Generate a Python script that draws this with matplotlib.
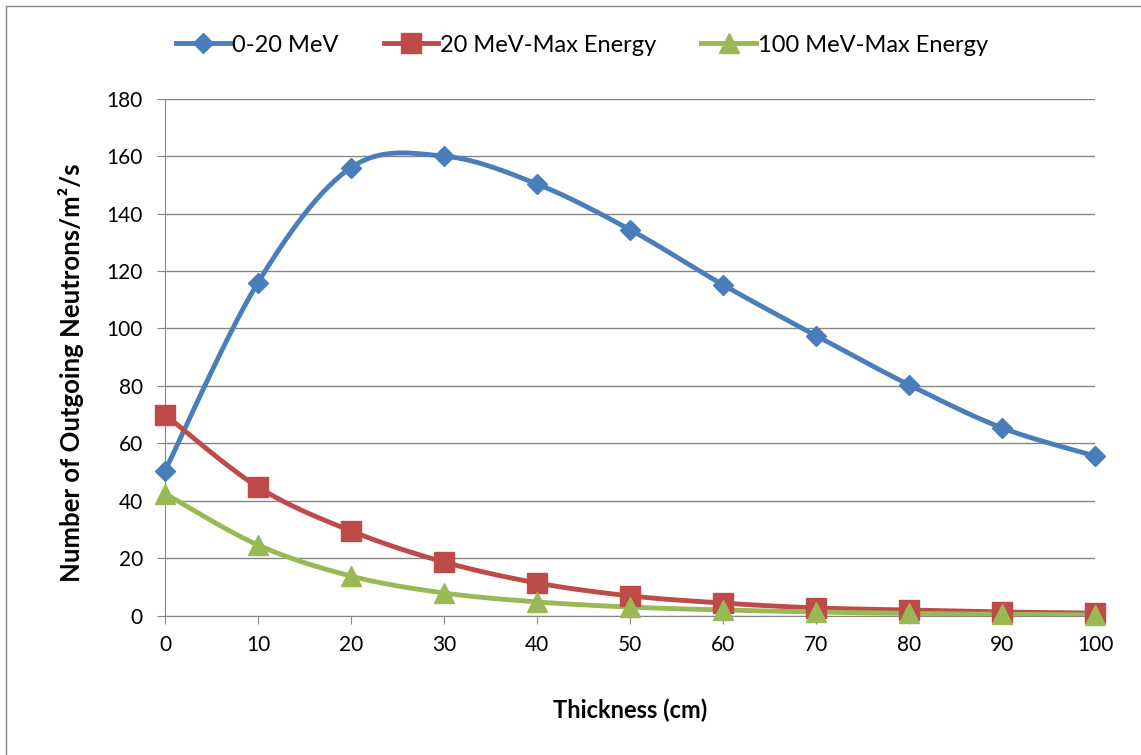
import numpy as np
import matplotlib.pyplot as plt
from matplotlib.patches import Rectangle

plt.rcParams['font.family'] = ['Lato', 'DejaVu Sans']

thickness = [0, 10, 20, 30, 40, 50, 60, 70, 80, 90, 100]
low_energy = [50.4, 116, 156, 160, 150.3, 134.4, 115.2, 97.5, 80.4, 65.4, 55.6]
mid_energy = [70, 44.8, 29.5, 18.7, 11.4, 6.9, 4.4, 2.7, 2.0, 1.3, 0.9]
high_energy = [42.5, 24.6, 13.8, 7.9, 4.8, 3.0, 2.0, 1.3, 0.8, 0.5, 0.3]

series_names = ['0-20 MeV', '20 MeV-Max Energy', '100 MeV-Max Energy']
colors = ['#4A7EBB', '#BE4B48', '#98B954']
markers = ['D', 's', '^']
msizes = [10, 14, 14]


def smooth(xs, ys, n=30):
    """catmull-rom style bezier smoothing through every point"""
    x = np.asarray(xs, float)
    y = np.asarray(ys, float)
    px = np.concatenate([[x[0]], x, [x[-1]]])
    py = np.concatenate([[y[0]], y, [y[-1]]])
    outx, outy = [], []
    t = np.linspace(0, 1, n)
    for i in range(len(x) - 1):
        p0 = np.array([px[i + 1], py[i + 1]])
        p3 = np.array([px[i + 2], py[i + 2]])
        c1 = p0 + (np.array([px[i + 2], py[i + 2]]) - np.array([px[i], py[i]])) / 6
        c2 = p3 - (np.array([px[i + 3], py[i + 3]]) - np.array([px[i + 1], py[i + 1]])) / 6
        for k in (0, 1):
            b = ((1 - t) ** 3 * p0[k] + 3 * (1 - t) ** 2 * t * c1[k]
                 + 3 * (1 - t) * t ** 2 * c2[k] + t ** 3 * p3[k])
            (outx if k == 0 else outy).extend(b)
    return outx, outy


fig = plt.figure(figsize=(11.41, 7.55), dpi=100)
fig.patches.append(Rectangle((6 / 1141, -0.01), 1.02, 1 - 6 / 755 + 0.01,
                             transform=fig.transFigure, fill=False,
                             edgecolor='#868686', linewidth=1))

ax = fig.add_axes([165 / 1141, (755 - 615.7) / 755, 930 / 1141, 517 / 755])

for ys, name, c, m, ms in zip([low_energy, mid_energy, high_energy],
                              series_names, colors, markers, msizes):
    sx, sy = smooth(thickness, ys)
    ax.plot(sx, sy, color=c, lw=3.5, solid_capstyle='round', zorder=3)
    ax.plot(thickness, ys, linestyle='none', marker=m, ms=ms, color=c,
            markeredgecolor=c, zorder=4, clip_on=False)
    ax.plot([], [], color=c, lw=3.5, marker=m, ms=ms, label=name)

ax.set_xlim(0, 100)
ax.set_ylim(0, 180)
ax.set_xticks(thickness)
ax.set_yticks(np.arange(0, 181, 20))
ax.grid(axis='y', color='#868686', lw=1)
ax.set_axisbelow(True)
for s in ['top', 'right']:
    ax.spines[s].set_visible(False)
for s in ['left', 'bottom']:
    ax.spines[s].set_color('#868686')
ax.tick_params(axis='both', length=6, color='#868686', labelsize=15, pad=8)
ax.tick_params(axis='y', pad=10)

ax.set_xlabel('Thickness (cm)', fontsize=17, fontweight='bold', labelpad=31)
ax.set_ylabel('Number of Outgoing Neutrons/m²/s', fontsize=18.5,
              fontweight='bold', labelpad=12)
ax.yaxis.set_label_coords(-0.087, 0.47)

fig.legend(loc='center', bbox_to_anchor=(582 / 1141, 1 - 45 / 755), ncol=3,
           frameon=False, fontsize=17, handlelength=2.3, columnspacing=1.9,
           handletextpad=0.1)

fig.savefig('out.png', dpi=100)
